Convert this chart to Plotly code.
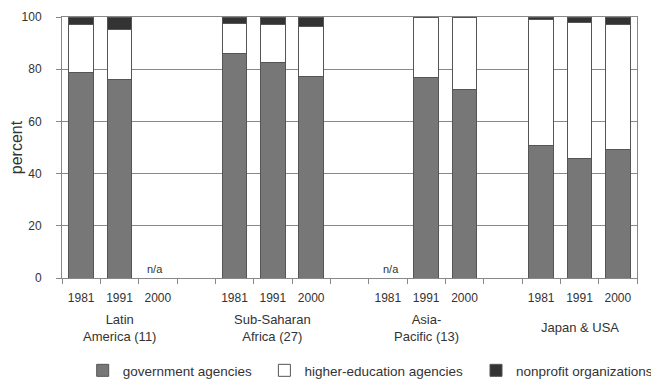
import plotly.graph_objects as go

# ---- data ----
groups = ["Latin<br>America (11)", "Sub-Saharan<br>Africa (27)", "Asia-<br>Pacific (13)", "Japan & USA"]
years = ["1981", "1991", "2000"]
government = [[78.8, 76.2, None], [86.2, 82.6, 77.2], [None, 77.0, 72.4], [50.7, 45.7, 49.2]]
higher_ed = [[18.2, 18.9, None], [11.2, 14.4, 19.2], [None, 23.0, 27.6], [48.3, 52.2, 47.8]]
nonprofit = [[3.0, 4.9, None], [2.6, 3.0, 3.6], [None, None, None], [1.0, 2.1, 3.0]]
series_names = ["government agencies", "higher-education agencies", "nonprofit organizations"]
series_colors = ["#777777", "#ffffff", "#333333"]

# ---- build slot categories (3 bars per group, one empty slot between groups) ----
slots, ticktext = [], []
flat = {0: [], 1: [], 2: []}
na_slots = []
group_center_slots = []
for gi, g in enumerate(groups):
    for yi, yr in enumerate(years):
        sid = f"g{gi}_{yr}"
        slots.append(sid)
        ticktext.append(yr)
        for si, ser in enumerate([government, higher_ed, nonprofit]):
            flat[si].append(ser[gi][yi])
        if government[gi][yi] is None:
            na_slots.append(sid)
        if yi == 1:
            group_center_slots.append(sid)
    if gi < len(groups) - 1:
        sid = f"gap{gi}"
        slots.append(sid)
        ticktext.append("")
        for si in flat:
            flat[si].append(None)

font_family = "Liberation Sans, Arial, sans-serif"
txt_color = "#333333"

legend_ids = ["legend", "legend2", "legend3"]
legend_x = [0.036, 0.352, 0.72]

fig = go.Figure()
for si, name in enumerate(series_names):
    fig.add_trace(go.Bar(
        x=slots, y=flat[si], name=name, legend=legend_ids[si], showlegend=True,
        marker=dict(color=series_colors[si], line=dict(color="#555555", width=1)),
    ))

for sid in na_slots:
    fig.add_annotation(x=sid, y=3.6, xref="x", yref="y", text="n/a", showarrow=False,
                       font=dict(size=11, color=txt_color, family=font_family),
                       xshift=-3 if sid.startswith("g0") else 3)

for sid, g in zip(group_center_slots, groups):
    fig.add_annotation(x=sid, y=-0.19, xref="x", yref="paper", text=g, showarrow=False,
                       yanchor="middle", align="center",
                       font=dict(size=13, color=txt_color, family=font_family))

legend_style = dict(orientation="h", xanchor="left", y=-0.414, yanchor="bottom",
                    font=dict(size=13.5, color=txt_color, family=font_family),
                    bgcolor="rgba(0,0,0,0)", visible=True)

# page body has an 8px default margin, so the figure is 8px smaller than the window
fig.update_layout(
    width=651, height=379, showlegend=True,
    barmode="stack", bargap=0.35,
    plot_bgcolor="white", paper_bgcolor="white",
    margin=dict(l=54, r=22, t=9, b=109, autoexpand=False),
    font=dict(family=font_family, color=txt_color),
    legend=dict(x=legend_x[0], **legend_style),
    legend2=dict(x=legend_x[1], **legend_style),
    legend3=dict(x=legend_x[2], **legend_style),
    xaxis=dict(type="category", categoryorder="array", categoryarray=slots,
               tickmode="array", tickvals=slots, ticktext=ticktext, tickangle=0,
               tickson="boundaries", ticks="outside", ticklen=5, tickcolor="#888888",
               ticklabelstandoff=9,
               showline=True, linecolor="#888888", mirror=True, showgrid=False,
               tickfont=dict(size=12, color=txt_color), range=[-0.5, len(slots) - 0.5]),
    yaxis=dict(range=[0, 100], tickvals=[0, 20, 40, 60, 80, 100],
               ticks="outside", ticklen=5, tickcolor="#888888",
               ticklabelstandoff=12,
               showline=True, linecolor="#888888", mirror=True,
               showgrid=True, gridcolor="#888888", gridwidth=1, zeroline=False,
               tickfont=dict(size=12, color=txt_color),
               title=dict(text="percent", font=dict(size=16, color=txt_color), standoff=0)),
)

fig.write_html("out.html")
